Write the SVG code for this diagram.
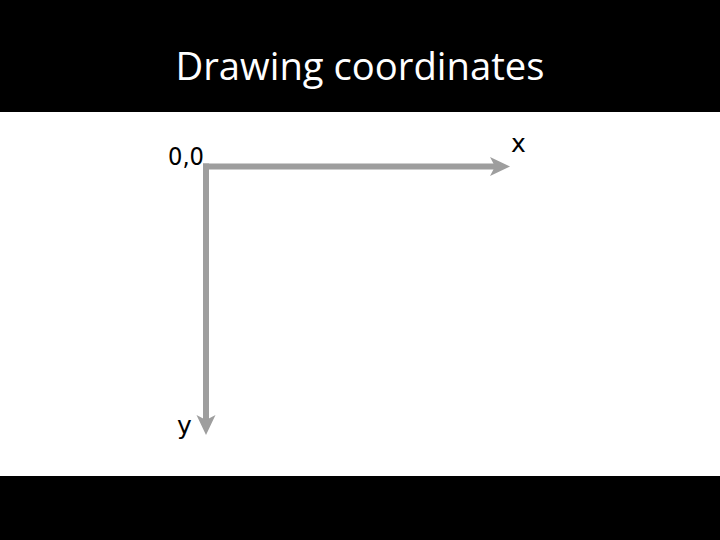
<svg xmlns="http://www.w3.org/2000/svg" width="720" height="540" viewBox="0 0 720 540">
  <style>
    .title { font-family: "Open Sans", "Liberation Sans", sans-serif; font-size: 38px; fill: #ffffff; }
    .lbl { font-family: "DejaVu Sans", "Liberation Sans", sans-serif; font-size: 25px; fill: #000000; }
    .axis { stroke: #9e9e9e; stroke-width: 6; fill: none; }
  </style>
  <defs>
    <marker id="arrow" markerUnits="userSpaceOnUse" viewBox="-21 -10 22 20" refX="-14" refY="0" markerWidth="22" markerHeight="20" orient="auto">
      <path d="M0,0 L-20,-9.5 L-15,0 L-20,9.5 Z" fill="#9e9e9e"/>
    </marker>
  </defs>
  <rect x="0" y="0" width="720" height="540" fill="#000000"/>
  <rect x="0" y="112" width="720" height="364" fill="#ffffff"/>
  <g id="title">
    <text class="title" x="360" y="80" text-anchor="middle" textLength="369" lengthAdjust="spacingAndGlyphs">Drawing coordinates</text>
  </g>
  <g id="connectors">
    <line id="x-axis" class="axis" x1="203" y1="166.5" x2="496" y2="166.5" marker-end="url(#arrow)"/>
    <line id="y-axis" class="axis" x1="206" y1="163.5" x2="206" y2="421" marker-end="url(#arrow)"/>
  </g>
  <g id="origin">
    <text class="lbl" x="168" y="165" textLength="36" lengthAdjust="spacingAndGlyphs">0,0</text>
  </g>
  <g id="x-label">
    <text class="lbl" x="511" y="152">x</text>
  </g>
  <g id="y-label">
    <text class="lbl" x="177" y="434">y</text>
  </g>
</svg>
